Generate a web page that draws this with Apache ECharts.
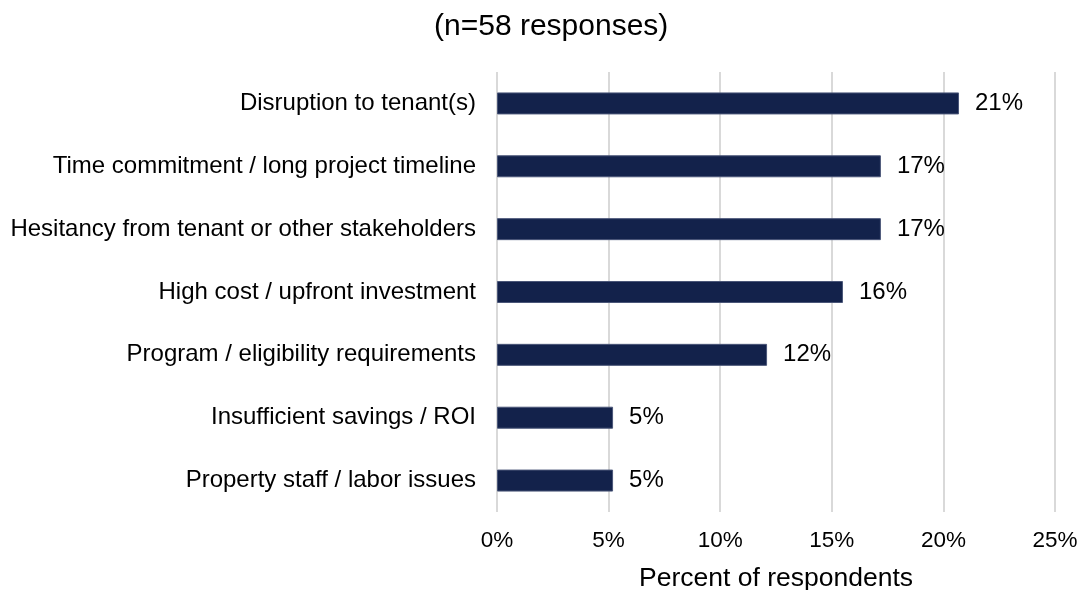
<!DOCTYPE html>
<html>
<head>
<meta charset="utf-8">
<script src="https://cdn.jsdelivr.net/npm/echarts@6/dist/echarts.min.js"></script>
<style>
  html, body { margin: 0; padding: 0; background: #ffffff; }
  #chart { width: 1081px; height: 590px; }
</style>
</head>
<body>
<div id="chart"></div>
<script>
// Barriers reported by respondents, top to bottom
const categories = [
  'Disruption to tenant(s)',
  'Time commitment / long project timeline',
  'Hesitancy from tenant or other stakeholders',
  'High cost / upfront investment',
  'Program / eligibility requirements',
  'Insufficient savings / ROI',
  'Property staff / labor issues'
];
// Share of respondents (percent)
const shares = [20.7, 17.2, 17.2, 15.5, 12.1, 5.2, 5.2];
// Tick values on the percent axis
const ticks = [0, 5, 10, 15, 20, 25];

const FONT = 'Liberation Sans, Arial, Helvetica, sans-serif';

const chart = echarts.init(document.getElementById('chart'), null, { renderer: 'canvas' });

chart.setOption({
  animation: false,
  backgroundColor: '#ffffff',
  title: {
    text: '(n=58 responses)',
    left: 429,
    top: 7,
    textStyle: { fontFamily: FONT, fontSize: 30, fontWeight: 'normal', color: '#000000' }
  },
  grid: {
    left: 497, right: 26, top: 72, bottom: 78,
    containLabel: false,
    outerBoundsMode: 'none'
  },
  xAxis: {
    type: 'value',
    min: ticks[0],
    max: ticks[ticks.length - 1],
    interval: ticks[1] - ticks[0],
    name: 'Percent of respondents',
    nameLocation: 'middle',
    nameGap: 53,
    nameTextStyle: { fontFamily: FONT, fontSize: 26.5, color: '#000000' },
    axisLine: { show: false },
    axisTick: { show: false },
    axisLabel: {
      fontFamily: FONT, fontSize: 22.5, color: '#000000', margin: 17,
      formatter: v => v + '%'
    },
    splitLine: { show: true, lineStyle: { color: '#d9d9d9', width: 2 } }
  },
  yAxis: {
    type: 'category',
    inverse: true,
    data: categories,
    axisLine: { show: false },
    axisTick: { show: false },
    axisLabel: { fontFamily: FONT, fontSize: 24, color: '#000000', margin: 21 }
  },
  series: [{
    type: 'bar',
    data: shares,
    barWidth: 22,
    itemStyle: { color: '#13224b', borderColor: '#4a5678', borderWidth: 1 },
    label: {
      show: true,
      position: 'right',
      distance: 16,
      fontFamily: FONT,
      fontSize: 24,
      color: '#000000',
      formatter: p => Math.round(p.value) + '%'
    }
  }]
});
</script>
</body>
</html>
